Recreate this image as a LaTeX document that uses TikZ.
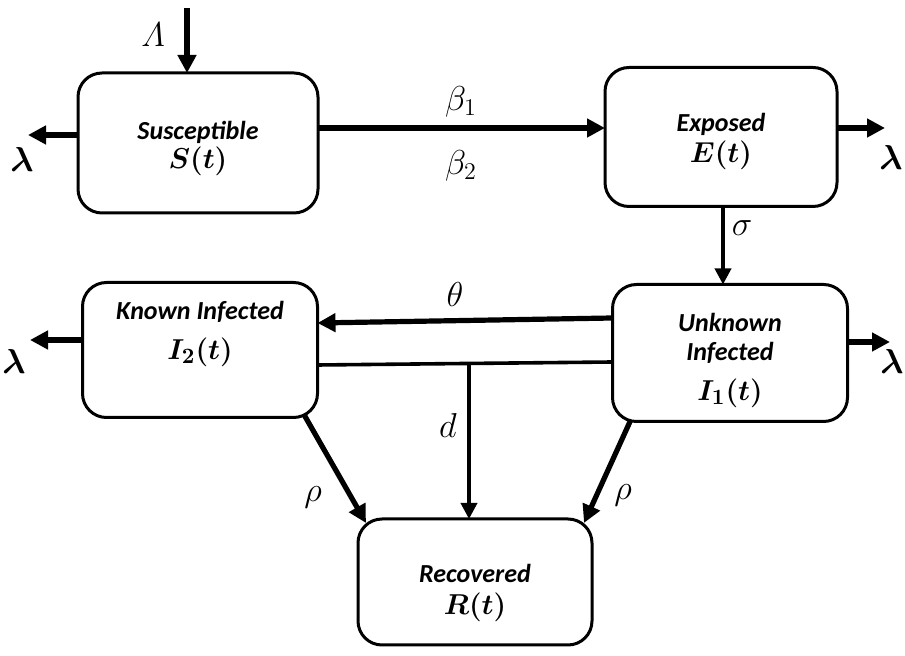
\documentclass[tikz,border=0pt]{standalone}
\usepackage{amsmath}
\usepackage{fontspec}
\usepackage{bm}
\newfontfamily\labfont{Carlito}
\usetikzlibrary{arrows.meta,calc}
\begin{document}
\begin{tikzpicture}[x=0.5pt,y=-0.5pt,
  box/.style={draw,line width=1.5pt,rounded corners=12pt,inner sep=0pt,outer sep=0pt},
  flow/.style={line width=2.6pt,-{Triangle[length=9pt,width=9pt]}},
  thin flow/.style={line width=1.8pt,-{Triangle[length=8pt,width=8pt]}},
  plain/.style={line width=1.8pt},
  word/.style={font=\labfont\bfseries\itshape\fontsize{13}{15}\selectfont,inner sep=0pt},
  mth/.style={font=\fontsize{15}{17}\selectfont,inner sep=0pt},
  rate/.style={font=\fontsize{17}{19}\selectfont,inner sep=0pt}]
\useasboundingbox (0,0) rectangle (905,656);
\node[box,minimum width=120pt,minimum height=70pt] (S) at (198,143) {};
\node[box,minimum width=116pt,minimum height=69.5pt] (E) at (721,137) {};
\node[box,minimum width=117.5pt,minimum height=67.5pt] (I2) at (200,350) {};
\node[box,minimum width=117.5pt,minimum height=68.5pt] (I1) at (730,353) {};
\node[box,minimum width=117pt,minimum height=63pt] (R) at (475,582) {};
% texts
\node[word] (tS) at (198,132) {Susceptible};
\node[mth] (mS) at (198,161) {$\bm{S(t)}$};
\node[word] (tE) at (721,124) {Exposed};
\node[mth] (mE) at (721,155) {$\bm{E(t)}$};
\node[word] (tI2) at (200,312) {Known Infected};
\node[mth] (mI2) at (200,352) {$\bm{I_2(t)}$};
\node[word] (tI1a) at (730,322) {Unknown};
\node[word] (tI1b) at (730,353) {Infected};
\node[mth] (mI1) at (730,393) {$\bm{I_1(t)}$};
\node[word] (tR) at (475,573) {Recovered};
\node[mth] (mR) at (475,607) {$\bm{R(t)}$};
% free ends
\coordinate (top) at (187,8);
\coordinate (outS) at (28,135);
\coordinate (outE) at (885,128);
\coordinate (outI2) at (30,340);
\coordinate (outI1) at (890,342);
\coordinate (dtop) at (469,364);
% connectors
\draw[flow] (top) -- (top |- S.north);
\draw[flow] ($(S.west)+(0,-8)$) -- (outS);
\draw[flow] ($(S.east)+(0,-15)$) -- ($(E.west)+(0,-9)$);
\draw[flow] ($(E.east)+(0,-9)$) -- (outE);
\draw[thin flow] ($(E.south)+(2,0)$) -- ($(I1.north)+(-7,0)$);
\draw[flow] ($(I1.west)+(0,-35)$) -- ($(I2.east)+(0,-27)$);
\draw[plain] ($(I1.west)+(0,9)$) -- ($(I2.east)+(0,15)$);
\draw[thin flow] (dtop) -- (dtop |- R.north);
\draw[flow] ($(I2.west)+(0,-10)$) -- (outI2);
\draw[flow] ($(I1.east)+(0,-11)$) -- (outI1);
\draw[flow] ($(I2.south east)+(-13,-2)$) -- ($(R.north west)+(8,4)$);
\draw[flow] ($(I1.south west)+(18,-1)$) -- ($(R.north east)+(-8,4)$);
% rate labels
\node[rate] (lLam) at (153,35) {$\varLambda$};
\node[rate] (lS) at (22,160) {$\bm{\lambda}$};
\node[rate] (b1) at (461,102) {$\beta_1$};
\node[rate] (b2) at (461,166) {$\beta_2$};
\node[rate] (lE) at (891,158) {$\bm{\lambda}$};
\node[rate] (sig) at (742,228) {$\sigma$};
\node[rate] (th) at (455,295) {$\theta$};
\node[rate] (dd) at (448,426) {$d$};
\node[rate] (lI2) at (14,362) {$\bm{\lambda}$};
\node[rate] (lI1) at (892,362) {$\bm{\lambda}$};
\node[rate] (r1) at (313,497) {$\rho$};
\node[rate] (r2) at (623,495) {$\rho$};
\end{tikzpicture}
\end{document}
